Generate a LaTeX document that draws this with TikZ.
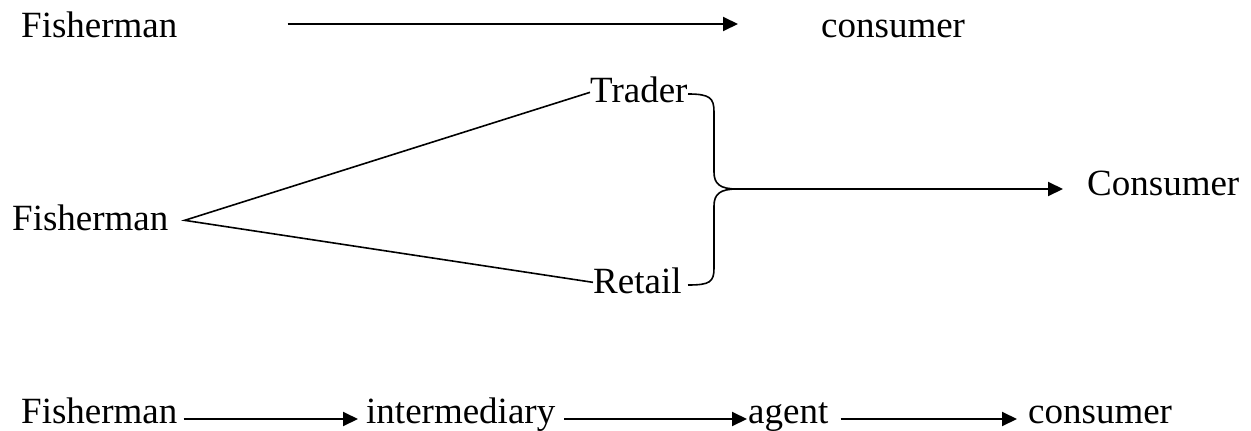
\documentclass[tikz,border=0pt]{standalone}
\usepackage{fontspec}
\setmainfont{Liberation Serif}
\usetikzlibrary{arrows.meta}

\begin{document}
\begin{tikzpicture}[
		x=1pt,y=-1pt,
		every node/.style={inner sep=0pt,anchor=base west,font=\fontsize{37}{44}\selectfont},
		flow/.style={line width=2pt,-{Triangle[length=15pt,width=14pt]}},
		link/.style={line width=1.6pt},
	]
	\useasboundingbox (0,0) rectangle (1251,431);
	% direct sale
	\node (fish1) at (21,37) {Fisherman};
	\node (cons1) at (821,37) {consumer};
	% through trader or retail
	\node (fish2) at (12,230) {Fisherman};
	\node (trader) at (590,102) {Trader};
	\node (retail) at (593,293) {Retail};
	\node (cons2) at (1087,195) {Consumer};
	\coordinate (tip) at (737,189);
	% long chain
	\node (fish3) at (21,423) {Fisherman};
	\node (inter) at (366,423) {intermediary};
	\node (agent) at (748,423) {agent};
	\node (cons3) at (1028,423) {consumer};

	\draw[flow,shorten <=110pt,shorten >=83pt] ([yshift=13pt]fish1.base east) -- ([yshift=13pt]cons1.base west);

	\draw[link] ([yshift=-3pt]trader.west) -- ([xshift=16pt,yshift=-3pt]fish2.east)
		-- ([yshift=-2pt]retail.west);
	\draw[link] (688,94) .. controls (710,94) and (714,98) .. (714,112) -- (714,172)
		.. controls (714,184) and (720,189) .. (tip)
		.. controls (720,189) and (714,194) .. (714,206) -- (714,268)
		.. controls (714,282) and (710,285) .. (688,285);
	\draw[flow,shorten >=24pt] (tip) -- (tip -| cons2.west);

	\draw[flow,shorten <=6pt,shorten >=8pt] ([yshift=4pt]fish3.base east) -- ([yshift=4pt]inter.base west);
	\draw[flow,shorten <=9pt,shorten >=1pt] ([yshift=4pt]inter.base east) -- ([yshift=4pt]agent.base west);
	\draw[flow,shorten <=12pt,shorten >=11pt] ([yshift=4pt]agent.base east) -- ([yshift=4pt]cons3.base west);
\end{tikzpicture}
\end{document}
